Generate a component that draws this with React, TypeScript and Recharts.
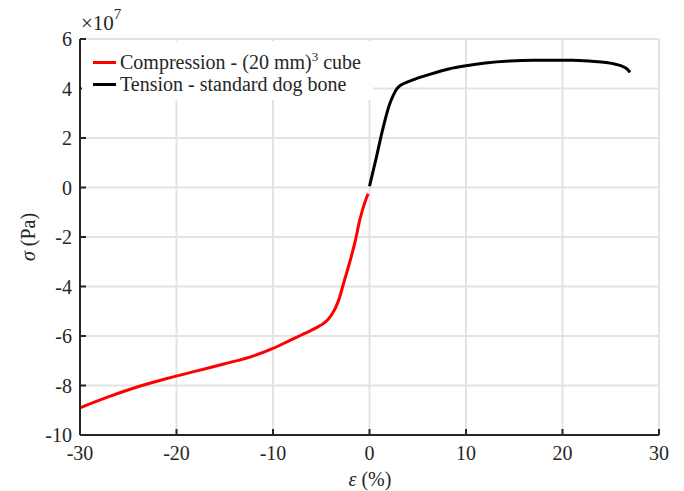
import React from 'react';
import { LineChart, Line, XAxis, YAxis, CartesianGrid } from 'recharts';

// strain in %, stress in units of 1e7 Pa
const compressionStrain = [-30, -27, -24, -21, -18, -15, -12, -10, -8.2, -7, -6.2, -5.4, -4.8, -4.3, -3.9, -3.5, -3.2, -2.7, -2.0, -1.5, -1.0, -0.5, -0.15];
const compressionStress = [-8.9, -8.45, -8.05, -7.72, -7.42, -7.12, -6.8, -6.5, -6.17, -5.95, -5.8, -5.64, -5.5, -5.33, -5.12, -4.84, -4.56, -3.89, -2.95, -2.2, -1.3, -0.62, -0.25];
const tensionStrain = [0, 0.7, 1.4, 2.1, 2.5, 2.8, 3.1, 3.5, 4.5, 5.9, 8.3, 10, 12, 14.5, 17, 21, 23, 24.5, 25.5, 26.3, 26.8, 27];
const tensionStress = [0.05, 1.2, 2.4, 3.38, 3.75, 3.97, 4.1, 4.19, 4.35, 4.53, 4.8, 4.92, 5.03, 5.11, 5.14, 5.14, 5.1, 5.05, 4.98, 4.88, 4.75, 4.65];
const xTicks = [-30, -20, -10, 0, 10, 20, 30];
const yTicks = [-10, -8, -6, -4, -2, 0, 2, 4, 6];

const compression = compressionStrain.map((x, i) => ({ x, y: compressionStress[i] }));
const tension = tensionStrain.map((x, i) => ({ x, y: tensionStress[i] }));

const font = 'Liberation Serif, Tinos, Times New Roman, Noto Serif, DejaVu Serif, FreeSerif, serif';
const ink = '#262626';
const axisLine = { stroke: ink, strokeWidth: 2 };
const tickStyle = { fill: ink, fontSize: 20, fontFamily: font };

const xLabel = () => (
  <text x={362} y={478} textAnchor="middle" fill={ink} fontSize={20} fontFamily={font}>
    <tspan fontStyle="italic">ε</tspan> (%)
  </text>
);

const yLabel = () => (
  <text x={27} y={229} transform="rotate(-90 27 229)" textAnchor="middle" fill={ink} fontSize={20} fontFamily={font}>
    <tspan fontStyle="italic">σ</tspan> (Pa)
  </text>
);

const ScaleNote = () => (
  <div style={{ position: 'absolute', left: 73, top: 5, fontFamily: font, fontSize: 21, lineHeight: '21px', color: ink }}>
    ×10<sup style={{ fontSize: 15, verticalAlign: 'top', lineHeight: '10px', position: 'relative', top: -4 }}>7</sup>
  </div>
);

const LegendBox = () => (
  <div
    style={{
      position: 'absolute', left: 74, top: 33, width: 291, height: 59,
      background: '#fff', fontFamily: font, fontSize: 20, color: ink,
      boxSizing: 'border-box', paddingLeft: 11, paddingTop: 10, lineHeight: '22px',
    }}
  >
    <div style={{ display: 'flex', alignItems: 'center' }}>
      <span style={{ width: 23, height: 3, background: '#ff0000', marginRight: 4 }} />
      <span>Compression - (20 mm)<sup style={{ fontSize: 13, verticalAlign: 'top', lineHeight: '12px' }}>3</sup> cube</span>
    </div>
    <div style={{ display: 'flex', alignItems: 'center' }}>
      <span style={{ width: 23, height: 3, background: '#000', marginRight: 4 }} />
      <span>Tension - standard dog bone</span>
    </div>
  </div>
);

export default function App() {
  return (
    <div style={{ position: 'relative', width: 676, height: 483 }}>
      <LineChart width={676} height={483} margin={{ top: 31, right: 25, bottom: 0, left: 12 }}>
        <CartesianGrid xAxisId="b" yAxisId="l" stroke="#e3e3e3" strokeWidth={2} />
        <XAxis
          xAxisId="b" dataKey="x" type="number" domain={[-30, 30]} ticks={xTicks}
          height={56} tickSize={-6} tickMargin={17} axisLine={axisLine}
          tickLine={axisLine} tick={tickStyle} allowDataOverflow label={xLabel}
        />
        <XAxis
          xAxisId="t" orientation="top" type="number" domain={[-30, 30]} ticks={xTicks}
          height={0} tickSize={-6} axisLine={axisLine} tickLine={axisLine}
          tickFormatter={() => ''} allowDataOverflow
        />
        <YAxis
          yAxisId="l" type="number" domain={[-10, 6]} ticks={yTicks} width={60}
          tickSize={-6} tickMargin={14} axisLine={axisLine} tickLine={axisLine}
          tick={tickStyle} allowDataOverflow label={yLabel}
        />
        <YAxis
          yAxisId="r" orientation="right" type="number" domain={[-10, 6]} ticks={yTicks}
          width={0} tickSize={-6} axisLine={axisLine} tickLine={axisLine}
          tickFormatter={() => ''} allowDataOverflow
        />
        <Line
          xAxisId="b" yAxisId="l" data={compression} dataKey="y" type="monotone"
          stroke="#ff0000" strokeWidth={3} dot={false} isAnimationActive={false}
        />
        <Line
          xAxisId="b" yAxisId="l" data={tension} dataKey="y" type="monotone"
          stroke="#000000" strokeWidth={3} dot={false} isAnimationActive={false}
        />
      </LineChart>
      <ScaleNote />
      <LegendBox />
    </div>
  );
}
